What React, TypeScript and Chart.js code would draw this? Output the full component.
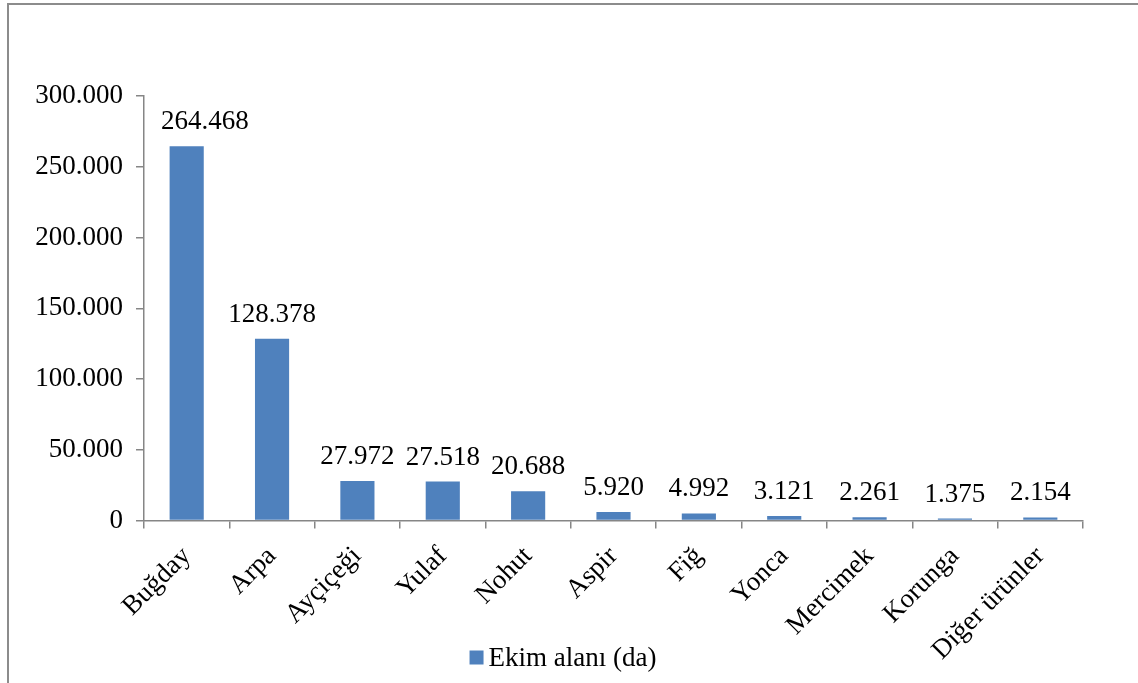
import React, { useEffect, useRef } from "react";
import { Chart, registerables } from "chart.js";

Chart.register(...registerables);

const categories: string[] = [
  "Buğday",
  "Arpa",
  "Ayçiçeği",
  "Yulaf",
  "Nohut",
  "Aspir",
  "Fiğ",
  "Yonca",
  "Mercimek",
  "Korunga",
  "Diğer ürünler",
];

const ekimAlani: number[] = [264468, 128378, 27972, 27518, 20688, 5920, 4992, 3121, 2261, 1375, 2154];

const seriesLabel = "Ekim alanı (da)";

const yTicks: number[] = [0, 50000, 100000, 150000, 200000, 250000, 300000];

const FONT = "'Liberation Serif', 'Times New Roman', serif";
const FONT_SIZE = 27;
const AXIS_COLOR = "#868686";
const BAR_COLOR = "#4F81BD";

function formatTR(v: number): string {
  const s = Math.round(v).toString();
  return s.replace(/\B(?=(\d{3})+(?!\d))/g, ".");
}

const valueLabelPlugin = {
  id: "valueLabels",
  afterDatasetsDraw(chart: any) {
    const { ctx, chartArea } = chart;
    const meta = chart.getDatasetMeta(0);
    const data = chart.data.datasets[0].data as number[];
    ctx.save();
    ctx.font = `${FONT_SIZE}px ${FONT}`;
    ctx.fillStyle = "#000000";
    ctx.textAlign = "center";
    ctx.textBaseline = "alphabetic";
    meta.data.forEach((el: any, i: number) => {
      const text = formatTR(data[i]);
      const w = ctx.measureText(text).width;
      const x = Math.max(el.x, chartArea.left + 17 + w / 2);
      ctx.fillText(text, x, el.y - 17);
    });
    ctx.restore();
  },
};

const bottomLegendPlugin = {
  id: "bottomLegend",
  afterDraw(chart: any) {
    const { ctx, chartArea } = chart;
    const ds = chart.data.datasets[0];
    ctx.save();
    ctx.font = `${FONT_SIZE}px ${FONT}`;
    const text = ds.label as string;
    const tw = ctx.measureText(text).width;
    const box = 14;
    const gap = 5;
    const total = box + gap + tw;
    const cx = chart.width / 2 - 6;
    const cy = chartArea.bottom + 137;
    const x0 = cx - total / 2;
    ctx.fillStyle = ds.backgroundColor;
    ctx.fillRect(x0, cy - box / 2, box, box);
    ctx.fillStyle = "#000000";
    ctx.textAlign = "left";
    ctx.textBaseline = "middle";
    ctx.fillText(text, x0 + box + gap, cy + 1);
    ctx.restore();
  },
};

export default function App() {
  const canvasRef = useRef<HTMLCanvasElement | null>(null);

  useEffect(() => {
    if (!canvasRef.current) return;
    const chart = new Chart(canvasRef.current, {
      type: "bar",
      data: {
        labels: categories,
        datasets: [
          {
            label: seriesLabel,
            data: ekimAlani,
            backgroundColor: BAR_COLOR,
            borderWidth: 0,
            categoryPercentage: 0.8,
            barPercentage: 0.5,
          },
        ],
      },
      options: {
        animation: false,
        responsive: false,
        maintainAspectRatio: false,
        layout: { padding: { left: 20, right: 55, top: 96, bottom: 22 } },
        plugins: {
          legend: { display: false },
          tooltip: { enabled: false },
        },
        scales: {
          x: {
            offset: true,
            grid: {
              offset: true,
              drawOnChartArea: false,
              drawTicks: true,
              tickLength: 8,
              color: AXIS_COLOR,
              lineWidth: 1.5,
            },
            border: { color: AXIS_COLOR, width: 1.5 },
            ticks: {
              minRotation: 45,
              maxRotation: 45,
              autoSkip: false,
              color: "#000000",
              font: { family: FONT, size: FONT_SIZE },
              padding: 12,
            },
            afterFit(scale: any) {
              scale.height = 683 - 22 - 520.5;
            },
          },
          y: {
            min: 0,
            max: 300000,
            afterBuildTicks(scale: any) {
              scale.ticks = yTicks.map((v) => ({ value: v }));
            },
            grid: {
              drawOnChartArea: false,
              drawTicks: true,
              tickLength: 8,
              color: AXIS_COLOR,
              lineWidth: 1.5,
            },
            border: { color: AXIS_COLOR, width: 1.5 },
            ticks: {
              color: "#000000",
              font: { family: FONT, size: FONT_SIZE },
              padding: 13,
              callback: (v: any) => formatTR(Number(v)),
            },
            afterFit(scale: any) {
              scale.width = 124;
            },
          },
        },
      },
      plugins: [valueLabelPlugin, bottomLegendPlugin],
    });
    return () => chart.destroy();
  }, []);

  return (
    <div
      style={{
        position: "fixed",
        left: 0,
        top: 0,
        width: 1138,
        height: 683,
        overflow: "hidden",
        background: "#ffffff",
      }}
    >
      <div
        style={{
          position: "absolute",
          left: 7,
          top: 3,
          width: 1200,
          height: 800,
          border: "2px solid #8c8c8c",
          boxSizing: "border-box",
        }}
      />
      <canvas
        ref={canvasRef}
        width={1138}
        height={683}
        style={{ position: "absolute", left: 0, top: 0, width: 1138, height: 683 }}
      />
    </div>
  );
}
